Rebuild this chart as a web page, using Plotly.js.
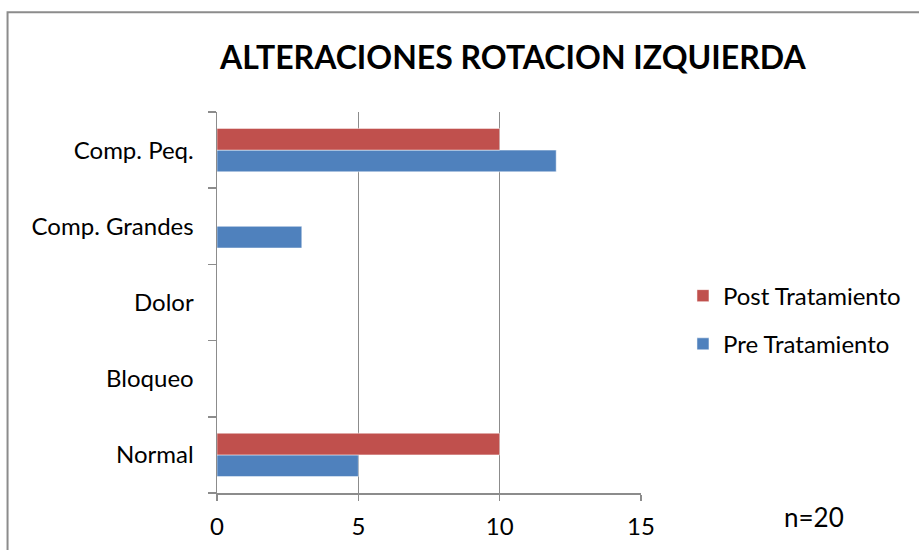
<!DOCTYPE html>
<html>
<head>
<meta charset="utf-8">
<script src="https://cdn.plot.ly/plotly-3.0.1.min.js"></script>
<style>html,body{margin:0;padding:0;background:#fff;}#chart{width:919px;height:550px;}</style>
</head>
<body>
<div id="chart"></div>
<script>
const categories = ['Normal', 'Bloqueo', 'Dolor', 'Comp. Grandes', 'Comp. Peq.'];
const preValues = [5, 0, 0, 3, 12];
const postValues = [10, 0, 0, 0, 10];
const xTicks = [0, 5, 10, 15];
const chartTitle = 'ALTERACIONES ROTACION IZQUIERDA';
const noteText = 'n=20';

const FONT = 'Lato, Carlito, "Open Sans", sans-serif';
const traces = [
  {type: 'bar', orientation: 'h', name: 'Pre Tratamiento', y: categories, x: preValues,
   legendgroup: 'pre', legendrank: 2, marker: {color: '#4F81BD', line: {color: '#ffffff', width: 0.5}}, hoverinfo: 'x+y+name'},
  {type: 'bar', orientation: 'h', name: 'Post Tratamiento', y: categories, x: postValues,
   legendgroup: 'post', legendrank: 1, marker: {color: '#C0504D', line: {color: '#ffffff', width: 0.5}}, hoverinfo: 'x+y+name'}
];
const layout = {
  width: 919, height: 550,
  paper_bgcolor: '#fff', plot_bgcolor: '#fff',
  margin: {l: 217, r: 278, t: 112, b: 57, pad: 0},
  font: {family: FONT, size: 24, color: '#000'},
  title: {text: '<b>' + chartTitle + '</b>', font: {family: FONT, size: 32, color: '#000'},
          x: 0.558, xref: 'container', xanchor: 'center', y: 1, yref: 'container', yanchor: 'top', pad: {t: 47}},
  barmode: 'group', bargap: 0.43, bargroupgap: 0,
  xaxis: {range: [0, 15], tickvals: xTicks, ticktext: xTicks.map(String),
          showgrid: true, gridcolor: '#8c8c8c', gridwidth: 1.5, zeroline: false,
          showline: true, linecolor: '#8c8c8c', linewidth: 1.5,
          ticks: 'outside', ticklen: 6, tickcolor: '#8c8c8c', tickwidth: 1.5,
          tickfont: {family: FONT, size: 24, color: '#000'}, ticklabelstandoff: 6, fixedrange: true},
  yaxis: {type: 'category', categoryorder: 'array', categoryarray: categories,
          showgrid: false, zeroline: false, showline: true, linecolor: '#8c8c8c', linewidth: 1.5,
          ticks: 'outside', tickson: 'boundaries', ticklen: 8, tickcolor: '#8c8c8c', tickwidth: 1.5,
          tickfont: {family: FONT, size: 24, color: '#000'}, ticklabelstandoff: 17, fixedrange: true},
  showlegend: true,
  legend: {x: 1.099, xanchor: 'left', y: 0.454, yanchor: 'middle', traceorder: 'grouped',
           tracegroupgap: 14, font: {family: FONT, size: 24, color: '#000'}, bgcolor: 'rgba(0,0,0,0)'},
  annotations: [
    {text: noteText, xref: 'paper', yref: 'paper', x: 1.408, y: -0.063, xanchor: 'center', yanchor: 'middle',
     showarrow: false, font: {family: FONT, size: 26, color: '#000'}}
  ],
  shapes: [
    {type: 'path', xref: 'paper', yref: 'paper',
     path: 'M -0.494,-0.2 L -0.494,1.2615 L 1.7,1.2615',
     line: {color: '#8c8c8c', width: 2}}
  ]
};
Plotly.newPlot('chart', traces, layout, {displayModeBar: false, staticPlot: true});
</script>
</body>
</html>
